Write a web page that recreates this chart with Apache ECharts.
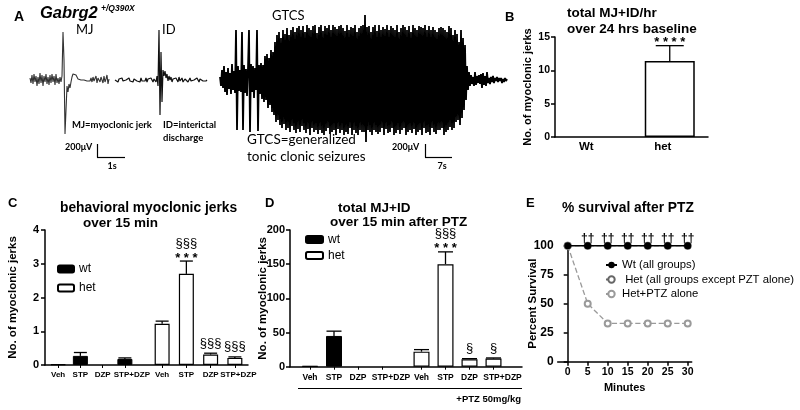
<!DOCTYPE html>
<html><head><meta charset="utf-8">
<script src="https://cdn.jsdelivr.net/npm/echarts@6/dist/echarts.min.js"></script>
<style>html,body{margin:0;padding:0;background:#fff}#c{width:800px;height:410px}</style>
</head><body><div id="c"></div>
<script>
// ---------- Panel A: EEG traces (hand-read samples, 1 sample per time step) ----------
const mjStart = 30, idStart = 115, gtcsStart = 220;
const mjTrace = [
  2,-3,5,-4,6,-2,4,-6,3,-4,7,-3,5,-6,4,-2,6,-4,3,-5,
  5,-3,6,-2,4,-5,6,-3,2,-4,3,-2,4,48,20,-54,-30,-6,-12,-4,
  -8,-2,3,6,8,7,5,3,1,0,-1,0,1,-1,0,1,-2,-1,0,1,
  -1,2,-2,3,-1,1,4,-3,2,0,-2,3,5,-3,4,-2,1,5,-4,1
];
const idTrace = [
  0,-1,1,-2,1,0,-1,2,-1,1,-2,0,1,-1,2,-1,0,1,-2,1,
  -1,2,-1,0,1,-2,2,-1,1,0,-1,2,-2,1,3,-1,2,0,-2,1,
  2,-2,4,-6,50,-35,28,-22,10,4,9,2,6,-1,4,0,3,-2,1,3,
  -1,2,0,-2,3,-1,1,2,-2,0,1,-1,3,-2,0,2,-1,1,-2,0,
  1,-1,2,0,-2,1,-1,2,-1,0,1,-1,0
];
const gtcsTrace = [
  3,-6,10,-8,14,-12,8,-15,12,-9,7,-14,16,-10,9,-13,50,-50,14,-11,
  10,-12,48,-50,15,-13,11,-16,12,50,-52,16,-12,14,-18,12,-10,50,-51,15,
  -14,17,-19,15,-22,24,-20,26,-28,22,-25,30,-32,28,-35,38,-42,45,-40,48,
  -45,42,-48,50,-44,46,-50,52,-48,45,-52,50,-46,53,-50,48,-53,52,-49,54,
  -52,50,-46,54,-50,48,-53,55,-49,52,-55,50,-48,54,-52,55,-50,47,-54,53,
  -50,55,-53,49,-55,54,-51,52,-48,55,-54,50,-52,55,-50,53,-55,51,-49,54,
  -53,55,-50,52,-55,49,-52,55,-54,50,-48,53,-55,52,-50,55,-53,48,-55,52,
  -50,54,-52,55,-52,65,-62,53,-50,54,-52,48,-55,53,-50,55,-52,49,-54,55,
  -52,50,-48,53,-55,51,-49,55,-53,50,-52,54,-48,52,-55,50,-53,55,-50,48,
  -54,52,-50,55,-48,53,-55,50,-52,54,-50,48,-53,55,-49,52,-55,50,-52,54,
  -50,53,-55,52,-48,55,-53,50,-52,54,-55,50,-48,53,-52,50,-54,48,-50,52,
  -50,53,-48,52,-55,50,-52,48,-50,54,-47,52,-50,45,-48,50,-42,46,-40,38,
  -45,50,-38,42,-30,35,-20,14,-10,8,-6,5,-4,3,-6,8,-5,4,-3,5,
  -4,6,-8,7,-5,4,-6,8,-3,2,-4,3,-2,4,-3,2,-1,3,-2,2,
  -1,2,-3,1,-2,2,-1,1
];

// ---------- Panel B ----------
const bCats = ['Wt', 'het'];
const bVals = [0, 11.4];
const bErr = [0, 2.3];
const bStars = ['', '* * * *'];

// ---------- Panel C (wt group, het group) ----------
const cCats = ['Veh', 'STP', 'DZP', 'STP+DZP'];
const cWt = [0.02, 0.27, 0, 0.18];
const cWtErr = [0, 0.1, 0, 0.03];
const cHet = [1.22, 2.7, 0.31, 0.21];
const cHetErr = [0.08, 0.38, 0.04, 0.03];
const cHetSec = ['', '§§§', '§§§', '§§§'];
const cHetStar = ['', '* * *', '', ''];

// ---------- Panel D ----------
const dCats = ['Veh', 'STP', 'DZP', 'STP+DZP'];
const dWt = [1, 45, 0, 0];
const dWtErr = [0, 7, 0, 0];
const dHet = [22, 150, 11, 12];
const dHetErr = [3, 18, 0.8, 0.8];
const dHetSec = ['', '§§§', '§', '§'];
const dHetStar = ['', '* * *', '', ''];

// ---------- Panel E ----------
const eMinutes = [0, 5, 10, 15, 20, 25, 30];
const eWt = [100, 100, 100, 100, 100, 100, 100];
const eHetAll = [100, 100, 100, 100, 100, 100, 100];
const eHetPtz = [100, 50, 33, 33, 33, 33, 33];
const eDaggers = ['', '††', '††', '††', '††', '††', '††'];
const eTicks = [0, 5, 10, 15, 20, 25, 30];

const FONT = "'Liberation Sans', Arial, sans-serif";
const CAL = "Lato, 'Open Sans', sans-serif";
const none = arr => arr.map(() => '');

const chart = echarts.init(document.getElementById('c'), null, {renderer: 'canvas'});

const aLine = {show: true, lineStyle: {color: '#000', width: 1.5}};
const aTick = {show: true, length: 4, lineStyle: {color: '#000', width: 1.5}};
function lbl(fs) { return {color: '#000', fontFamily: FONT, fontWeight: 'bold', fontSize: fs}; }
function barData(vals) { return vals.map(v => v === 0 ? {value: 0, itemStyle: {borderWidth: 0}} : v); }

function errRender(capW) {
  return function (params, api) {
    const x = api.value(0), v = api.value(1), e = api.value(2);
    if (!(e > 0)) return null;
    const p0 = api.coord([x, v]), p1 = api.coord([x, v + e]);
    const st = {stroke: '#000', lineWidth: 1.3};
    return {type: 'group', children: [
      {type: 'line', shape: {x1: p0[0], y1: p0[1], x2: p1[0], y2: p1[1]}, style: st},
      {type: 'line', shape: {x1: p1[0] - capW / 2, y1: p1[1], x2: p1[0] + capW / 2, y2: p1[1]}, style: st}
    ]};
  };
}
function annRender(secs, stars) {
  return function (params, api) {
    const i = params.dataIndex;
    const p = api.coord([api.value(0), api.value(1)]);
    const ch = [];
    if (stars[i]) {
      ch.push({type: 'text', x: p[0], y: p[1] - 3, style: {text: stars[i], font: 'bold 13px ' + FONT, fill: '#000',
        textAlign: 'center', align: 'center', textVerticalAlign: 'middle', verticalAlign: 'middle'}});
    }
    if (secs[i]) {
      ch.push({type: 'text', x: p[0], y: p[1] - (stars[i] ? 18 : 10), style: {text: secs[i], font: '13px ' + FONT, fill: '#000',
        textAlign: 'center', align: 'center', textVerticalAlign: 'middle', verticalAlign: 'middle'}});
    }
    return {type: 'group', children: ch};
  };
}
// bar group (bars + error bars + annotations) on one sub-grid
function group(name, axis, vals, errs, secs, stars, barW, capW, style) {
  return [
    {name: name, type: 'bar', xAxisIndex: axis, yAxisIndex: axis, data: barData(vals), barWidth: barW, itemStyle: style},
    {type: 'custom', xAxisIndex: axis, yAxisIndex: axis, clip: false, renderItem: errRender(capW),
      encode: {x: 0, y: 1}, data: vals.map((v, i) => [i, v, errs[i]])},
    {type: 'custom', xAxisIndex: axis, yAxisIndex: axis, clip: false, renderItem: annRender(secs, stars),
      encode: {x: 0, y: 1}, data: vals.map((v, i) => [i, v + errs[i]])}
  ];
}
function subX(grid, cats, fs, plusPad) {
  return {gridIndex: grid, type: 'category', data: cats, axisLine: {show: false},
    axisTick: {show: true, alignWithLabel: true, length: 3, lineStyle: {color: '#000', width: 1}},
    axisLabel: Object.assign(lbl(fs), {margin: 6, interval: 0,
      formatter: v => v.indexOf('+') >= 0 ? '{w|' + v + '}' : v,
      rich: {w: {padding: [0, 0, 0, plusPad], fontSize: fs, fontWeight: 'bold', fontFamily: FONT, color: '#000'}}})};
}
function mainX(grid) {
  return {gridIndex: grid, type: 'value', min: 0, max: 1, axisLine: aLine, axisTick: {show: false},
    axisLabel: {show: false}, splitLine: {show: false}};
}
function hiddenY(grid, max) { return {gridIndex: grid, type: 'value', min: 0, max: max, show: false}; }

function txt(text, x, y, font, align) {
  return {type: 'text', x: x, y: y, silent: true, style: {text: text, font: font, fill: '#000',
    textAlign: align || 'left', align: align || 'left', textVerticalAlign: 'middle', verticalAlign: 'middle'}};
}
function ln(x1, y1, x2, y2, w) {
  return {type: 'line', silent: true, shape: {x1: x1, y1: y1, x2: x2, y2: y2}, style: {stroke: '#000', lineWidth: w || 1}};
}

const WT_STYLE = {color: '#000', borderColor: '#000', borderWidth: 1};
const HET_STYLE = {color: '#fff', borderColor: '#000', borderWidth: 1.2};

const option = {
  animation: false,
  backgroundColor: '#fff',
  grid: [
    {left: 0, top: 10, width: 510, height: 140},          // 0 A
    {left: 555, top: 37, width: 153, height: 100},        // 1 B
    {left: 45, top: 230, width: 203, height: 135},        // 2 C frame
    {left: 47, top: 230, width: 89, height: 135},         // 3 C wt
    {left: 150, top: 230, width: 97, height: 135},        // 4 C het
    {left: 290, top: 230, width: 232, height: 136.7},     // 5 D frame
    {left: 298, top: 230, width: 96, height: 136.7},      // 6 D wt
    {left: 409.5, top: 230, width: 96, height: 136.7},    // 7 D het
    {left: 557.7, top: 245.7, width: 134, height: 116}    // 8 E
  ],
  xAxis: [
    {gridIndex: 0, type: 'value', min: 0, max: 510, show: false},
    {gridIndex: 1, type: 'category', data: bCats, axisLine: aLine, axisTick: {show: false},
      axisLabel: Object.assign(lbl(11.5), {margin: 4, padding: [0, 14, 0, 0]})},
    mainX(2), subX(3, cCats, 8, 14), subX(4, cCats, 8, 7),
    mainX(5), subX(6, dCats, 8.5, 18), subX(7, dCats, 8.5, 18),
    {gridIndex: 8, type: 'value', min: -2.5, max: 31, axisLine: aLine, splitLine: {show: false},
      axisTick: Object.assign({}, aTick, {customValues: eTicks}),
      axisLabel: Object.assign(lbl(10.5), {customValues: eTicks, margin: 5}),
      name: 'Minutes', nameLocation: 'middle', nameGap: 21, nameTextStyle: lbl(11)}
  ],
  yAxis: [
    {gridIndex: 0, type: 'value', min: -70, max: 70, show: false},
    {gridIndex: 1, type: 'value', min: 0, max: 15, interval: 5, axisLine: aLine, axisTick: aTick, splitLine: {show: false},
      axisLabel: Object.assign(lbl(10.5), {margin: 5}),
      name: 'No. of myoclonic jerks', nameLocation: 'middle', nameGap: 22, nameTextStyle: lbl(11)},
    {gridIndex: 2, type: 'value', min: 0, max: 4, interval: 1, axisLine: aLine, axisTick: aTick, splitLine: {show: false},
      axisLabel: Object.assign(lbl(11), {margin: 6}),
      name: 'No. of myoclonic jerks', nameLocation: 'middle', nameGap: 26, nameTextStyle: lbl(11.5)},
    hiddenY(3, 4), hiddenY(4, 4),
    {gridIndex: 5, type: 'value', min: 0, max: 200, interval: 50, axisLine: aLine, axisTick: aTick, splitLine: {show: false},
      axisLabel: Object.assign(lbl(11), {margin: 5}), nameMoveOverlap: false,
      name: 'No. of myoclonic jerks', nameLocation: 'middle', nameGap: 21.5, nameTextStyle: lbl(11.5)},
    hiddenY(6, 200), hiddenY(7, 200),
    {gridIndex: 8, type: 'value', min: 0, max: 100, interval: 25, axisLine: aLine, axisTick: aTick, splitLine: {show: false},
      axisLabel: Object.assign(lbl(12), {margin: 4}), nameMoveOverlap: false,
      name: 'Percent Survival', nameLocation: 'middle', nameGap: 19, nameTextStyle: lbl(11.5)}
  ],
  legend: [
    {data: ['wt', 'het'], orient: 'vertical', left: 57, top: 263, padding: 0, itemWidth: 16, itemHeight: 7, itemGap: 7,
      selectedMode: false, textStyle: {fontFamily: FONT, fontSize: 12, color: '#000'}},
    {data: ['wt', 'het'], orient: 'vertical', left: 305, top: 233.5, padding: 0, itemWidth: 17, itemHeight: 7, itemGap: 4,
      selectedMode: false, textStyle: {fontFamily: FONT, fontSize: 12, color: '#000'}},
    {data: ['Wt (all groups)', ' Het (all groups except PZT alone)', 'Het+PTZ alone'], orient: 'vertical', left: 605, top: 259.5,
      padding: 0, itemWidth: 11, itemHeight: 8, itemGap: 3.5, selectedMode: false,
      textStyle: {fontFamily: FONT, fontSize: 11.3, color: '#000'}}
  ],
  series: [
    // Panel A
    {type: 'line', xAxisIndex: 0, yAxisIndex: 0, showSymbol: false, silent: true,
      data: mjTrace.map((v, i) => [mjStart + i, v]), lineStyle: {color: '#333', width: 1.1}},
    {type: 'line', xAxisIndex: 0, yAxisIndex: 0, showSymbol: false, silent: true,
      data: idTrace.map((v, i) => [idStart + i, v]), lineStyle: {color: '#111', width: 1.2}},
    {type: 'line', xAxisIndex: 0, yAxisIndex: 0, showSymbol: false, silent: true,
      data: gtcsTrace.map((v, i) => [gtcsStart + i, v]), lineStyle: {color: '#000', width: 1.8}},
    // Panel B
    ...group('', 1, bVals, bErr, none(bVals), bStars, 50, 28, {color: '#fff', borderColor: '#000', borderWidth: 1.5}),
    // Panel C
    ...group('wt', 3, cWt, cWtErr, none(cWt), none(cWt), 15, 13, WT_STYLE),
    ...group('het', 4, cHet, cHetErr, cHetSec, cHetStar, 15, 13, HET_STYLE),
    // Panel D
    ...group('wt', 6, dWt, dWtErr, none(dWt), none(dWt), 16, 15, WT_STYLE),
    ...group('het', 7, dHet, dHetErr, dHetSec, dHetStar, 16, 15, HET_STYLE),
    // Panel E
    {name: ' Het (all groups except PZT alone)', type: 'line', xAxisIndex: 8, yAxisIndex: 8, z: 2,
      data: eMinutes.map((m, i) => [m, eHetAll[i]]), symbol: 'emptyCircle', symbolSize: 6,
      lineStyle: {color: '#666', width: 1.2, type: 'dashed'}, itemStyle: {color: '#666', borderWidth: 1.2}},
    {name: 'Het+PTZ alone', type: 'line', xAxisIndex: 8, yAxisIndex: 8, z: 3,
      data: eMinutes.map((m, i) => [m, eHetPtz[i]]), symbol: 'emptyCircle', symbolSize: 6,
      lineStyle: {color: '#9a9a9a', width: 1.3, type: 'dashed'}, itemStyle: {color: '#9a9a9a', borderWidth: 1.3}},
    {name: 'Wt (all groups)', type: 'line', xAxisIndex: 8, yAxisIndex: 8, z: 4,
      data: eMinutes.map((m, i) => [m, eWt[i]]), symbol: 'circle', symbolSize: 7,
      lineStyle: {color: '#000', width: 1.5}, itemStyle: {color: '#000'},
      label: {show: true, position: 'top', distance: 1, offset: [0, 3], color: '#000', fontFamily: FONT, fontSize: 12, fontWeight: 'bold',
        formatter: p => eDaggers[p.dataIndex]}}
  ],
  graphic: [
    // Panel A texts and scale bars
    txt('A', 14, 17, 'bold 14px ' + FONT),
    txt('Gabrg2', 40, 13, 'italic bold 16.5px ' + FONT),
    txt('+/Q390X', 101, 9, 'italic bold 8.5px ' + FONT),
    txt('MJ', 76, 30, '13px ' + CAL),
    txt('ID', 162, 30, '13px ' + CAL),
    txt('GTCS', 272, 16, '13px ' + CAL),
    txt('MJ=myoclonic jerk', 72, 125, 'bold 9.5px ' + CAL),
    txt('ID=interictal', 163, 125, 'bold 9.5px ' + CAL),
    txt('discharge', 163, 138, 'bold 9.5px ' + CAL),
    txt('200μV', 65, 147, 'bold 9px ' + CAL),
    ln(97.5, 144, 97.5, 157.5, 1.2), ln(97, 157.5, 125, 157.5, 1.2),
    txt('1s', 112, 166, 'bold 9px ' + CAL, 'center'),
    txt('GTCS=generalized', 247, 140, '13.5px ' + CAL),
    txt('tonic clonic seizures', 247, 157, '13.5px ' + CAL),
    txt('200μV', 392, 147, 'bold 9px ' + CAL),
    ln(425.5, 144, 425.5, 157.5, 1.2), ln(425, 157.5, 452, 157.5, 1.2),
    txt('7s', 442, 166, 'bold 9px ' + CAL, 'center'),
    // Panel B
    txt('B', 505, 17, 'bold 13px ' + FONT),
    txt('total MJ+ID/hr', 567, 13, 'bold 13.5px ' + FONT),
    txt('over 24 hrs baseline', 567, 29, 'bold 13.5px ' + FONT),
    // Panel C
    txt('C', 8, 203, 'bold 13px ' + FONT),
    txt('behavioral myoclonic jerks', 60, 208, 'bold 13.8px ' + FONT),
    txt('over 15 min', 83, 223, 'bold 13.5px ' + FONT),
    // Panel D
    txt('D', 265, 203, 'bold 13px ' + FONT),
    txt('total MJ+ID', 338, 208, 'bold 13.5px ' + FONT),
    txt('over 15 min after PTZ', 330, 222, 'bold 13.5px ' + FONT),
    ln(298, 388.5, 522, 388.5, 1.2),
    txt('+PTZ 50mg/kg', 521, 399, 'bold 9.5px ' + FONT, 'right'),
    // Panel E
    txt('E', 526, 203, 'bold 13px ' + FONT),
    txt('% survival after PTZ', 562, 208, 'bold 13.8px ' + FONT)
  ]
};
chart.setOption(option);
</script>
</body></html>
